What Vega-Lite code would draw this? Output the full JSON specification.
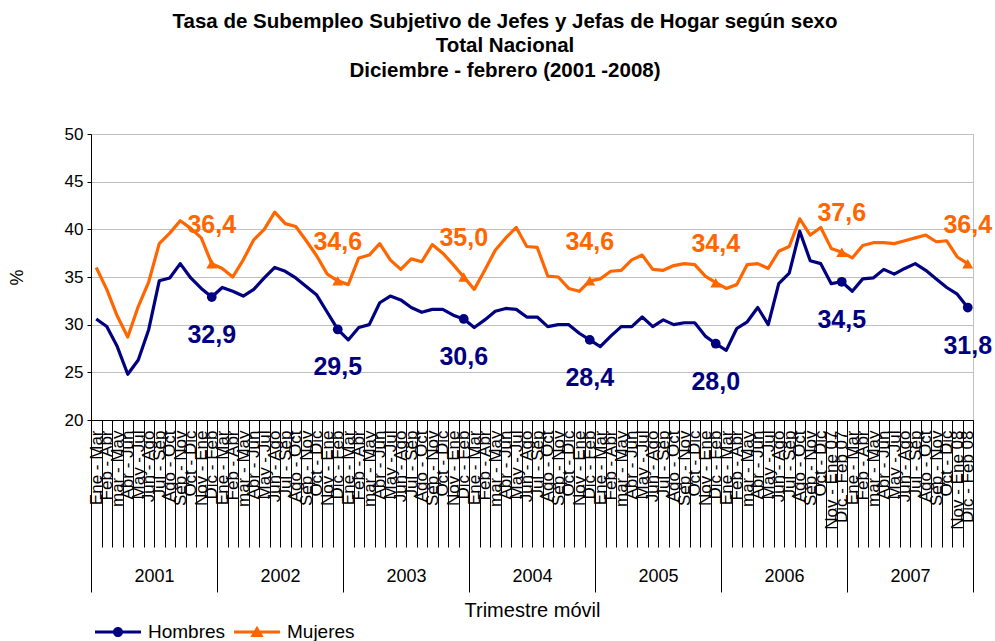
{
  "$schema": "https://vega.github.io/schema/vega-lite/v6.json",
  "width": 882,
  "height": 286,
  "autosize": "none",
  "padding": {"left": 91, "top": 134, "right": 22, "bottom": 221},
  "background": "white",
  "title": {
    "text": ["Tasa de Subempleo Subjetivo de Jefes y Jefas  de Hogar según sexo", "Total Nacional", "Diciembre  - febrero (2001 -2008)"],
    "font": "Liberation Sans",
    "fontSize": 20.5,
    "fontWeight": "bold",
    "color": "black",
    "anchor": "middle",
    "lineHeight": 24.5,
    "offset": 44,
    "dx": -27
  },
  "config": {
    "font": "Liberation Sans",
    "locale": {"number": {"decimal": ",", "thousands": ".", "grouping": [3], "currency": ["", ""]}},
    "view": {"stroke": "#c0c0c0"},
    "axis": {"labelFont": "Liberation Sans", "titleFont": "Liberation Sans", "labelColor": "black", "titleColor": "black"},
    "legend": {
      "orient": "none", "legendX": 4, "legendY": 475, "direction": "horizontal", "title": null,
      "symbolOpacity": 1, "symbolSize": 2116, "symbolStrokeWidth": 0,
      "labelFont": "Liberation Sans", "labelFontSize": 19, "labelOffset": 7, "columnPadding": 8, "padding": 0, "labelColor": "black"
    }
  },
  "datasets": {
    "serie": [
      {"p": "2001 Ene - Mar", "Hombres": 30.6, "Mujeres": 36.0},
      {"p": "2001 Feb - Abr", "Hombres": 29.8, "Mujeres": 33.7},
      {"p": "2001 mar - May", "Hombres": 27.7, "Mujeres": 30.9},
      {"p": "2001 Abr - Jun", "Hombres": 24.8, "Mujeres": 28.7},
      {"p": "2001 May - Jul", "Hombres": 26.3, "Mujeres": 31.9},
      {"p": "2001 Jun - Ago", "Hombres": 29.5, "Mujeres": 34.5},
      {"p": "2001 Jul - Sep", "Hombres": 34.6, "Mujeres": 38.5},
      {"p": "2001 Ago - Oct", "Hombres": 34.9, "Mujeres": 39.6},
      {"p": "2001 Sep - Nov", "Hombres": 36.4, "Mujeres": 40.9},
      {"p": "2001 Oct - Dic", "Hombres": 34.9, "Mujeres": 40.1},
      {"p": "2001 Nov - Ene", "Hombres": 33.8, "Mujeres": 39.1},
      {"p": "2001 Dic - Feb", "Hombres": 32.9, "Mujeres": 36.4},
      {"p": "2002 Ene - Mar", "Hombres": 33.9, "Mujeres": 35.9},
      {"p": "2002 Feb - Abr", "Hombres": 33.5, "Mujeres": 35.0},
      {"p": "2002 mar - May", "Hombres": 33.0, "Mujeres": 36.8},
      {"p": "2002 Abr - Jun", "Hombres": 33.7, "Mujeres": 38.9},
      {"p": "2002 May - Jul", "Hombres": 34.9, "Mujeres": 40.0},
      {"p": "2002 Jun - Ago", "Hombres": 36.0, "Mujeres": 41.8},
      {"p": "2002 Jul - Sep", "Hombres": 35.6, "Mujeres": 40.6},
      {"p": "2002 Ago - Oct", "Hombres": 34.9, "Mujeres": 40.3},
      {"p": "2002 Sep - Nov", "Hombres": 34.0, "Mujeres": 38.8},
      {"p": "2002 Oct - Dic", "Hombres": 33.1, "Mujeres": 37.2},
      {"p": "2002 Nov - Ene", "Hombres": 31.3, "Mujeres": 35.3},
      {"p": "2002 Dic - Feb", "Hombres": 29.5, "Mujeres": 34.6},
      {"p": "2003 Ene - Mar", "Hombres": 28.4, "Mujeres": 34.2},
      {"p": "2003 Feb - Abr", "Hombres": 29.7, "Mujeres": 37.0},
      {"p": "2003 mar - May", "Hombres": 30.0, "Mujeres": 37.3},
      {"p": "2003 Abr - Jun", "Hombres": 32.3, "Mujeres": 38.5},
      {"p": "2003 May - Jul", "Hombres": 33.0, "Mujeres": 36.8},
      {"p": "2003 Jun - Ago", "Hombres": 32.6, "Mujeres": 35.8},
      {"p": "2003 Jul - Sep", "Hombres": 31.8, "Mujeres": 36.9},
      {"p": "2003 Ago - Oct", "Hombres": 31.3, "Mujeres": 36.6},
      {"p": "2003 Sep - Nov", "Hombres": 31.6, "Mujeres": 38.4},
      {"p": "2003 Oct - Dic", "Hombres": 31.6, "Mujeres": 37.5},
      {"p": "2003 Nov - Ene", "Hombres": 31.0, "Mujeres": 36.3},
      {"p": "2003 Dic - Feb", "Hombres": 30.6, "Mujeres": 35.0},
      {"p": "2004 Ene - Mar", "Hombres": 29.7, "Mujeres": 33.7},
      {"p": "2004 Feb - Abr", "Hombres": 30.5, "Mujeres": 35.7},
      {"p": "2004 mar - May", "Hombres": 31.4, "Mujeres": 37.8},
      {"p": "2004 Abr - Jun", "Hombres": 31.7, "Mujeres": 39.1},
      {"p": "2004 May - Jul", "Hombres": 31.6, "Mujeres": 40.2},
      {"p": "2004 Jun - Ago", "Hombres": 30.8, "Mujeres": 38.2},
      {"p": "2004 Jul - Sep", "Hombres": 30.8, "Mujeres": 38.1},
      {"p": "2004 Ago - Oct", "Hombres": 29.8, "Mujeres": 35.1},
      {"p": "2004 Sep - Nov", "Hombres": 30.0, "Mujeres": 35.0},
      {"p": "2004 Oct - Dic", "Hombres": 30.0, "Mujeres": 33.8},
      {"p": "2004 Nov - Ene", "Hombres": 29.1, "Mujeres": 33.5},
      {"p": "2004 Dic - Feb", "Hombres": 28.4, "Mujeres": 34.6},
      {"p": "2005 Ene - Mar", "Hombres": 27.7, "Mujeres": 34.8},
      {"p": "2005 Feb - Abr", "Hombres": 28.8, "Mujeres": 35.6},
      {"p": "2005 mar - May", "Hombres": 29.8, "Mujeres": 35.7},
      {"p": "2005 Abr - Jun", "Hombres": 29.8, "Mujeres": 36.8},
      {"p": "2005 May - Jul", "Hombres": 30.8, "Mujeres": 37.3},
      {"p": "2005 Jun - Ago", "Hombres": 29.8, "Mujeres": 35.8},
      {"p": "2005 Jul - Sep", "Hombres": 30.5, "Mujeres": 35.7},
      {"p": "2005 Ago - Oct", "Hombres": 30.0, "Mujeres": 36.2},
      {"p": "2005 Sep - Nov", "Hombres": 30.2, "Mujeres": 36.4},
      {"p": "2005 Oct - Dic", "Hombres": 30.2, "Mujeres": 36.3},
      {"p": "2005 Nov - Ene", "Hombres": 28.8, "Mujeres": 35.1},
      {"p": "2005 Dic - Feb", "Hombres": 28.0, "Mujeres": 34.4},
      {"p": "2006 Ene - Mar", "Hombres": 27.3, "Mujeres": 33.8},
      {"p": "2006 Feb - Abr", "Hombres": 29.6, "Mujeres": 34.2},
      {"p": "2006 mar - May", "Hombres": 30.3, "Mujeres": 36.3},
      {"p": "2006 Abr - Jun", "Hombres": 31.8, "Mujeres": 36.4},
      {"p": "2006 May - Jul", "Hombres": 30.0, "Mujeres": 35.9},
      {"p": "2006 Jun - Ago", "Hombres": 34.3, "Mujeres": 37.7},
      {"p": "2006 Jul - Sep", "Hombres": 35.4, "Mujeres": 38.2},
      {"p": "2006 Ago - Oct", "Hombres": 39.8, "Mujeres": 41.1},
      {"p": "2006 Sep - Nov", "Hombres": 36.7, "Mujeres": 39.4},
      {"p": "2006 Oct - Dic", "Hombres": 36.4, "Mujeres": 40.2},
      {"p": "2006 Nov - Ene 07", "Hombres": 34.3, "Mujeres": 38.0},
      {"p": "2006 Dic - Feb 07", "Hombres": 34.5, "Mujeres": 37.6},
      {"p": "2007 Ene - Mar", "Hombres": 33.5, "Mujeres": 37.0},
      {"p": "2007 Feb - Abr", "Hombres": 34.8, "Mujeres": 38.3},
      {"p": "2007 mar - May", "Hombres": 34.9, "Mujeres": 38.6},
      {"p": "2007 Abr - Jun", "Hombres": 35.8, "Mujeres": 38.6},
      {"p": "2007 May - Jul", "Hombres": 35.3, "Mujeres": 38.5},
      {"p": "2007 Jun - Ago", "Hombres": 35.9, "Mujeres": 38.8},
      {"p": "2007 Jul - Sep", "Hombres": 36.4, "Mujeres": 39.1},
      {"p": "2007 Ago - Oct", "Hombres": 35.7, "Mujeres": 39.4},
      {"p": "2007 Sep - Nov", "Hombres": 34.8, "Mujeres": 38.7},
      {"p": "2007 Oct - Dic", "Hombres": 33.9, "Mujeres": 38.8},
      {"p": "2007 Nov - Ene 08", "Hombres": 33.2, "Mujeres": 37.1},
      {"p": "2007 Dic - Feb 08", "Hombres": 31.8, "Mujeres": 36.4}
    ],
    "anios": [
      {"a": "2001"}, {"a": "2002"}, {"a": "2003"}, {"a": "2004"}, {"a": "2005"}, {"a": "2006"}, {"a": "2007"}
    ]
  },
  "layer": [
    {
      "data": {"name": "serie"},
      "transform": [{"fold": ["Hombres", "Mujeres"], "as": ["s", "v"]}],
      "encoding": {
        "x": {
          "field": "p", "type": "ordinal", "sort": null,
          "scale": {"type": "band", "paddingInner": 0, "paddingOuter": 0},
          "axis": {
            "title": null,
            "labelAngle": 270,
            "labelFontSize": 17,
            "labelExpr": "substring(datum.label, 5)",
            "labelOverlap": false,
            "labelPadding": -117,
            "tickBand": "extent",
            "tickSize": 127,
            "tickColor": "black",
            "domainColor": "black",
            "grid": false
          }
        },
        "y": {
          "field": "v", "type": "quantitative",
          "scale": {"domain": [20, 50], "nice": false, "zero": false},
          "axis": {
            "values": [20, 25, 30, 35, 40, 45, 50],
            "title": "%",
            "titleFontSize": 18,
            "titleFontWeight": "normal",
            "titlePadding": 38,
            "labelFontSize": 17,
            "labelPadding": 4,
            "tickSize": 4,
            "tickColor": "black",
            "domainColor": "black",
            "grid": true,
            "gridColor": "#c0c0c0"
          }
        }
      },
      "layer": [
        {
          "transform": [{"filter": "datum.s == 'Mujeres'"}],
          "mark": {"type": "line", "strokeWidth": 3.2, "strokeJoin": "round", "color": "#FF6600"},
          "encoding": {}
        },
        {
          "transform": [{"filter": "datum.s == 'Hombres'"}],
          "mark": {"type": "line", "strokeWidth": 3.2, "strokeJoin": "round", "color": "#000080"},
          "encoding": {}
        },
        {
          "transform": [{"filter": "indexof(datum.p, 'Dic - Feb') >= 0 && datum.s == 'Hombres'"}],
          "mark": {"type": "point", "shape": "circle", "filled": true, "opacity": 1, "size": 95, "color": "#000080"},
          "encoding": {}
        },
        {
          "transform": [{"filter": "indexof(datum.p, 'Dic - Feb') >= 0 && datum.s == 'Mujeres'"}],
          "mark": {"type": "point", "shape": "triangle-up", "filled": true, "opacity": 1, "size": 120, "color": "#FF6600"},
          "encoding": {}
        },
        {
          "transform": [{"filter": "indexof(datum.p, 'Dic - Feb') >= 0 && datum.s == 'Hombres'"}],
          "mark": {"type": "text", "fontSize": 25, "fontWeight": "bold", "color": "#000080", "dy": 38},
          "encoding": {"text": {"field": "v", "type": "quantitative", "format": ".1f"}}
        },
        {
          "transform": [{"filter": "indexof(datum.p, 'Dic - Feb') >= 0 && datum.s == 'Mujeres'"}],
          "mark": {"type": "text", "fontSize": 25, "fontWeight": "bold", "color": "#FF6600", "dy": -39},
          "encoding": {"text": {"field": "v", "type": "quantitative", "format": ".1f"}}
        },
        {
          "transform": [{"filter": "indexof(datum.p, 'Dic - Feb') >= 0"}],
          "mark": {"type": "point", "filled": true, "fillOpacity": 0, "strokeOpacity": 0},
          "encoding": {
            "color": {"field": "s", "type": "nominal", "title": null, "scale": {"domain": ["Hombres", "Mujeres"], "range": ["#000080", "#FF6600"]}},
            "shape": {"field": "s", "type": "nominal", "title": null, "scale": {"domain": ["Hombres", "Mujeres"], "range": [
              "M-1,-0.065L1,-0.065L1,0.065L-1,0.065Z M-0.22,0A0.22,0.22 0 1,1 0.22,0A0.22,0.22 0 1,1 -0.22,0Z",
              "M-1,-0.065L1,-0.065L1,0.065L-1,0.065Z M0,-0.27L0.29,0.22L-0.29,0.22Z"
            ]}}
          }
        }
      ]
    },
    {
      "data": {"name": "anios"},
      "mark": {"type": "text", "opacity": 0},
      "encoding": {
        "x": {
          "field": "a", "type": "ordinal", "sort": null,
          "scale": {"type": "band", "paddingInner": 0, "paddingOuter": 0},
          "axis": {
            "orient": "bottom",
            "title": "Trimestre móvil",
            "titleFontSize": 20,
            "titleFontWeight": "normal",
            "titlePadding": 8,
            "labelAngle": 0,
            "labelFontSize": 18,
            "labelPadding": -25,
            "tickBand": "extent",
            "tickSize": 172,
            "tickColor": "black",
            "domain": false,
            "grid": false
          }
        },
        "text": {"field": "a", "type": "nominal"}
      }
    }
  ],
  "resolve": {"scale": {"x": "independent"}}
}
